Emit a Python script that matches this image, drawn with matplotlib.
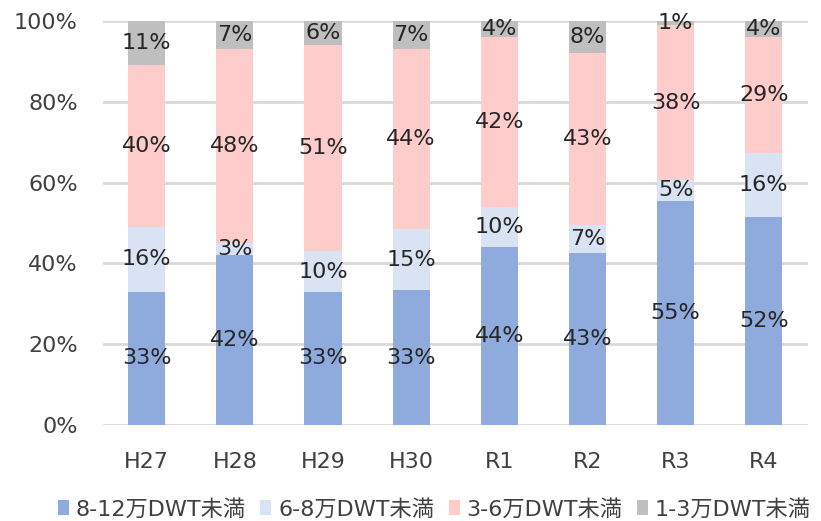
import matplotlib
matplotlib.use("Agg")
import matplotlib.pyplot as plt
import numpy as np
from matplotlib.patches import Patch

plt.rcParams['font.family'] = ['DejaVu Sans', 'Noto Sans CJK JP']

categories = ["H27", "H28", "H29", "H30", "R1", "R2", "R3", "R4"]
series_names = ["8-12万DWT未満", "6-8万DWT未満", "3-6万DWT未満", "1-3万DWT未満"]
s_8_12 = [33, 42, 33, 33, 44, 43, 55, 52]
s_6_8 = [16, 3, 10, 15, 10, 7, 5, 16]
s_3_6 = [40, 48, 51, 44, 42, 43, 38, 29]
s_1_3 = [11, 7, 6, 7, 4, 8, 1, 4]
yticks = [0, 20, 40, 60, 80, 100]

colors = ["#8FAADC", "#DAE3F3", "#FFCCCC", "#BFBFBF"]

fig = plt.figure(figsize=(8.21, 5.21), dpi=100)
ax = fig.add_axes([0.125, 0.184, 0.859, 0.776])

data = np.array([s_8_12, s_6_8, s_3_6, s_1_3], dtype=float)
totals = data.sum(axis=0)
shares = data / totals * 100

x = np.arange(len(categories))
bottom = np.zeros(len(categories))
for i in range(4):
    ax.bar(x, shares[i], bottom=bottom, width=0.42, color=colors[i], zorder=2)
    for j in range(len(categories)):
        ax.text(x[j], bottom[j] + shares[i][j] / 2, f"{int(data[i][j])}%",
                ha="center", va="center", fontsize=16, color="#262626", zorder=3)
    bottom += shares[i]

ax.set_xlim(-0.5, len(categories) - 0.5)
ax.set_ylim(0, 100)
ax.set_yticks(yticks)
ax.set_yticklabels([f"{v}%" for v in yticks], fontsize=16, color="#404040")
ax.set_xticks(x)
ax.set_xticklabels(categories, fontsize=16, color="#404040")
ax.tick_params(axis="both", length=0)
ax.tick_params(axis="y", pad=18)
ax.tick_params(axis="x", pad=19)
for s in ax.spines.values():
    s.set_visible(False)
ax.yaxis.grid(True, color="#D9D9D9", linewidth=2)
ax.set_axisbelow(True)

handles = [Patch(facecolor=c, edgecolor="none") for c in colors]
leg = fig.legend(handles, series_names, loc="center", bbox_to_anchor=(0.529, 0.023),
                 ncol=4, frameon=False, fontsize=16, handlelength=0.5, handleheight=0.7,
                 handletextpad=0.3, columnspacing=0.65)
for t in leg.get_texts():
    t.set_color("#404040")

fig.savefig("out.png", dpi=100)
